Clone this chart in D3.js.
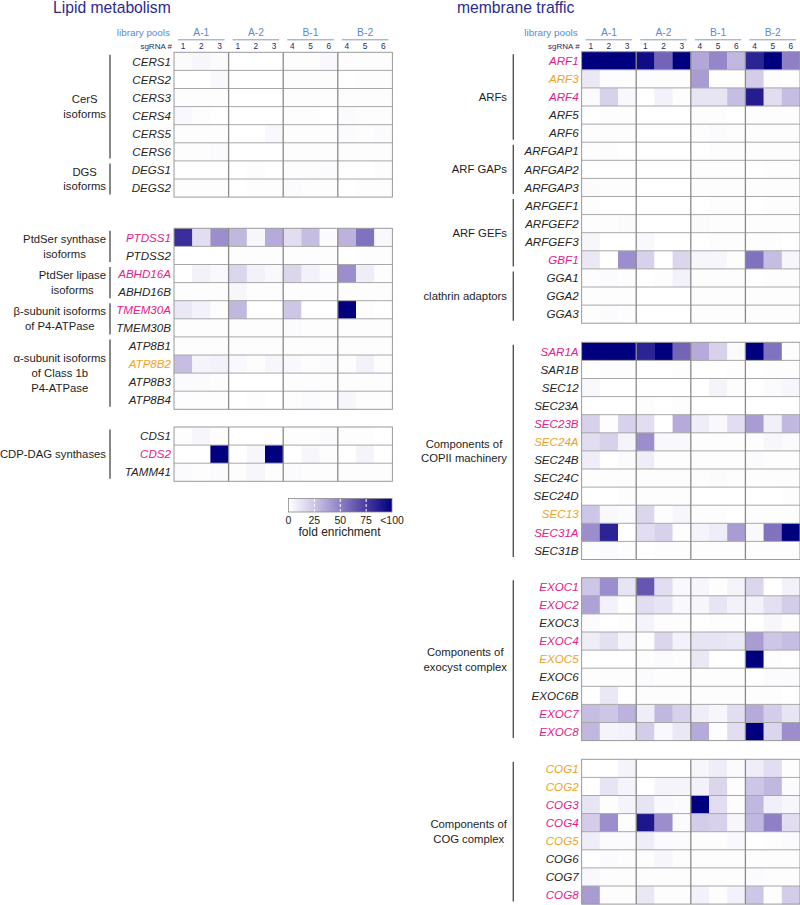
<!DOCTYPE html>
<html><head><meta charset="utf-8">
<script src="https://cdn.jsdelivr.net/npm/d3@7"></script>
<style>
body{margin:0;background:#fff;}
svg{display:block;font-family:"Liberation Sans",Arial,sans-serif;}
</style></head>
<body><svg id="c" width="800" height="905"></svg>
<script>
// ---------- DATA ----------
const pools = ["A-1","A-2","B-1","B-2"];
const sgRNAs = ["1","2","3","1","2","3","4","5","6","4","5","6"];
const legendTicks = ["0","25","50","75","<100"];

const magentaGenes = ["PTDSS1","ABHD16A","TMEM30A","CDS2","ARF1","ARF4","GBF1","SAR1A","SEC23B","SEC31A","EXOC1","EXOC2","EXOC4","EXOC7","EXOC8","COG3","COG4","COG8"];
const orangeGenes = ["ATP8B2","ARF3","SEC24A","SEC13","EXOC5","COG1","COG2","COG5"];

// Lipid metabolism blocks
const cersGenes = ["CERS1","CERS2","CERS3","CERS4","CERS5","CERS6","DEGS1","DEGS2"];
const cersValues = [
 [2,4,2, 0,0,0, 1,1,3, 1,1,1],
 [0,0,3, 0,0,0, 1,1,1, 0,1,1],
 [1,1,1, 0,0,0, 1,1,1, 1,1,1],
 [3,1,0, 0,0,0, 1,1,0, 2,1,1],
 [1,1,1, 0,0,3, 1,1,1, 2,1,2],
 [1,1,2, 0,0,0, 1,1,1, 1,1,1],
 [0,0,0, 0,1,0, 1,1,2, 0,0,1],
 [1,1,1, 0,1,1, 2,1,1, 0,1,1]
];
const ptdGenes = ["PTDSS1","PTDSS2","ABHD16A","ABHD16B","TMEM30A","TMEM30B","ATP8B1","ATP8B2","ATP8B3","ATP8B4"];
const ptdValues = [
 [80,15,45, 30,4,35, 15,28,2, 32,55,3],
 [0,0,0, 1,1,1, 1,1,1, 0,1,1],
 [0,6,3, 18,6,3, 18,6,2, 45,8,1],
 [1,1,1, 4,1,1, 1,1,1, 1,1,1],
 [10,6,1, 30,0,0, 25,0,0, 100,1,0],
 [1,1,1, 1,1,1, 2,1,1, 1,1,1],
 [1,1,1, 1,1,1, 1,1,1, 1,1,1],
 [28,5,6, 3,1,4, 3,1,2, 1,6,1],
 [2,2,1, 0,0,0, 1,1,1, 1,1,1],
 [1,1,1, 0,1,0, 1,2,1, 4,1,1]
];
const cdsGenes = ["CDS1","CDS2","TAMM41"];
const cdsValues = [
 [1,4,1, 0,0,0, 1,1,2, 1,1,0],
 [0,0,100, 0,4,100, 0,4,1, 0,5,0],
 [2,1,2, 1,4,1, 2,1,1, 1,1,1]
];

// membrane traffic blocks
const arfGenes = ["ARF1","ARF3","ARF4","ARF5","ARF6","ARFGAP1","ARFGAP2","ARFGAP3","ARFGEF1","ARFGEF2","ARFGEF3","GBF1","GGA1","GGA2","GGA3"];
const arfValues = [
 [100,100,100, 95,60,100, 36,48,30, 85,100,50],
 [10,1,1, 1,1,1, 40,0,0, 22,1,0],
 [2,20,3, 0,6,1, 12,12,28, 88,15,28],
 [0,1,1, 0,0,0, 1,1,0, 1,1,1],
 [1,1,1, 0,0,0, 1,2,1, 1,1,1],
 [1,1,0, 0,0,0, 0,1,1, 1,1,1],
 [0,0,0, 0,0,0, 1,1,1, 0,1,1],
 [2,1,1, 0,0,0, 1,1,1, 1,1,1],
 [1,0,0, 0,0,0, 0,1,1, 0,1,1],
 [1,1,2, 0,0,0, 2,1,1, 1,1,1],
 [4,0,0, 3,0,0, 0,1,1, 1,1,0],
 [10,0,45, 20,0,18, 4,4,1, 55,28,4],
 [1,2,1, 0,1,6, 1,1,1, 0,1,1],
 [1,1,1, 0,0,0, 1,1,1, 1,1,1],
 [1,2,1, 0,0,0, 1,1,1, 1,1,1]
];
const copiiGenes = ["SAR1A","SAR1B","SEC12","SEC23A","SEC23B","SEC24A","SEC24B","SEC24C","SEC24D","SEC13","SEC31A","SEC31B"];
const copiiValues = [
 [100,100,100, 85,100,60, 35,20,2, 100,55,1],
 [0,1,1, 0,0,1, 0,0,1, 0,1,1],
 [3,0,0, 0,0,0, 0,5,1, 0,2,4],
 [0,0,0, 1,0,1, 0,0,0, 0,0,0],
 [20,1,20, 15,0,35, 8,3,15, 40,7,30],
 [15,20,5, 45,3,3, 1,1,1, 1,4,2],
 [8,0,2, 8,1,1, 1,1,1, 2,1,1],
 [1,1,1, 1,1,1, 1,2,1, 1,1,1],
 [0,0,1, 1,1,1, 0,0,0, 0,0,1],
 [25,3,2, 18,1,4, 1,1,0, 1,1,1],
 [45,85,0, 15,20,1, 5,8,40, 3,55,100],
 [1,2,1, 0,1,1, 1,1,1, 1,1,1]
];
const exocGenes = ["EXOC1","EXOC2","EXOC3","EXOC4","EXOC5","EXOC6","EXOC6B","EXOC7","EXOC8"];
const exocValues = [
 [25,45,12, 65,15,3, 4,1,5, 18,0,6],
 [38,6,1, 15,12,3, 4,12,6, 6,14,22],
 [2,0,1, 5,1,1, 0,1,1, 0,4,1],
 [8,14,5, 1,18,6, 12,12,10, 40,25,28],
 [0,0,0, 1,2,1, 10,0,0, 100,1,0],
 [1,1,1, 2,1,1, 1,1,1, 0,2,2],
 [0,10,0, 1,1,1, 1,1,1, 1,1,0],
 [28,25,32, 8,30,20, 8,4,15, 35,22,12],
 [30,5,6, 22,3,10, 35,1,15, 100,18,45]
];
const cogGenes = ["COG1","COG2","COG3","COG4","COG5","COG6","COG7","COG8"];
const cogValues = [
 [0,0,5, 0,0,0, 4,8,2, 8,15,1],
 [0,12,5, 0,5,5, 6,18,1, 25,30,2],
 [12,1,5, 12,3,2, 100,15,1, 30,7,4],
 [22,45,1, 90,45,2, 22,20,4, 30,50,15],
 [8,2,2, 8,2,2, 1,1,3, 0,1,2],
 [0,2,1, 1,4,1, 1,1,1, 1,1,1],
 [3,1,1, 1,1,1, 1,1,1, 2,1,1],
 [40,1,1, 10,1,1, 6,1,6, 25,1,22]
];

// group labels: [text lines, first gene, last gene]
const lipidGroups = [
 [["CerS","isoforms"],"CERS1","CERS6"],
 [["DGS","isoforms"],"DEGS1","DEGS2"],
 [["PtdSer synthase","isoforms"],"PTDSS1","PTDSS2"],
 [["PtdSer lipase","isoforms"],"ABHD16A","ABHD16B"],
 [["β-subunit isoforms","of P4-ATPase"],"TMEM30A","TMEM30B"],
 [["α-subunit isoforms","of Class 1b","P4-ATPase"],"ATP8B1","ATP8B4"],
 [["CDP-DAG synthases"],"CDS1","TAMM41"]
];
const trafficGroups = [
 [["ARFs"],"ARF1","ARF6"],
 [["ARF GAPs"],"ARFGAP1","ARFGAP3"],
 [["ARF GEFs"],"ARFGEF1","GBF1"],
 [["clathrin adaptors"],"GGA1","GGA3"],
 [["Components of","COPII machinery"],"SAR1A","SEC31B"],
 [["Components of","exocyst complex"],"EXOC1","EXOC8"],
 [["Components of","COG complex"],"COG1","COG8"]
];

// ---------- DRAW ----------
const svg = d3.select("#c");
const color = d3.scaleLinear()
  .domain([0,25,50,75,100])
  .range(["#ffffff","#cec6e6","#8f80c6","#4a3aa2","#00007e"])
  .clamp(true);
const ROWH = 18.1;
const MAG = "#e2208c", ORA = "#f0a224", TXT = "#262626";
function geneColor(g){ return magentaGenes.includes(g)?MAG:(orangeGenes.includes(g)?ORA:TXT); }

function panel(cfg){
  const g = svg.append("g");
  const x = d3.scaleBand().domain(d3.range(12)).range([cfg.x0, cfg.x0+218.4]);
  const cw = x.bandwidth();
  // title
  g.append("text").attr("x",cfg.titleX).attr("y",12.5).attr("font-size",15.7)
    .attr("fill","#2b2b8f").text(cfg.title);
  // header
  g.append("text").attr("x",cfg.x0-4).attr("y",35.5).attr("text-anchor","end")
    .attr("font-size",9.9).attr("fill","#5b8ad2").text("library pools");
  pools.forEach((p,i)=>{
    const a = x(i*3), b = x(i*3+2)+cw;
    g.append("text").attr("x",(a+b)/2).attr("y",35.5).attr("text-anchor","middle")
      .attr("font-size",10.3).attr("fill","#5b8ad2").text(p);
    g.append("line").attr("x1",a+4).attr("x2",b-4).attr("y1",39.8).attr("y2",39.8)
      .attr("stroke","#8d9bb5").attr("stroke-width",1);
  });
  g.append("text").attr("x",cfg.x0-2).attr("y",49.3).attr("text-anchor","end")
    .attr("font-size",8).attr("fill","#1f2a66").text("sgRNA #");
  sgRNAs.forEach((s,i)=>{
    g.append("text").attr("x",x(i)+cw/2).attr("y",49.3).attr("text-anchor","middle")
      .attr("font-size",8.3).attr("fill","#1f2a66").text(s);
  });
  const rowY = {};
  cfg.blocks.forEach(bl=>{
    const y = d3.scaleBand().domain(bl.genes).range([bl.y0, bl.y0+ROWH*bl.genes.length]);
    const bg = g.append("g");
    bl.genes.forEach((gene,r)=>{
      rowY[gene] = [y(gene), y(gene)+y.bandwidth()];
      bg.selectAll(null).data(bl.values[r]).enter().append("rect")
        .attr("x",(d,i)=>x(i)).attr("y",y(gene)).attr("width",cw+0.3).attr("height",y.bandwidth()+0.3)
        .attr("fill",d=>color(d));
      bg.append("text").attr("x",cfg.x0-3).attr("y",y(gene)+y.bandwidth()/2+4.2)
        .attr("text-anchor","end").attr("font-size",11.6).attr("font-style","italic")
        .attr("fill",geneColor(gene)).text(gene);
    });
    const yTop = bl.y0, yBot = bl.y0+ROWH*bl.genes.length;
    bl.genes.slice(1).forEach(gene=>{
      bg.append("line").attr("x1",cfg.x0).attr("x2",cfg.x0+218.4).attr("y1",y(gene)).attr("y2",y(gene))
        .attr("stroke","#a8a8a8").attr("stroke-width",1);
    });
    [3,6,9].forEach(i=>{
      bg.append("line").attr("x1",x(i)).attr("x2",x(i)).attr("y1",yTop).attr("y2",yBot)
        .attr("stroke","#8a8a8a").attr("stroke-width",1.3);
    });
    bg.append("rect").attr("x",cfg.x0).attr("y",yTop).attr("width",218.4).attr("height",yBot-yTop)
      .attr("fill","none").attr("stroke","#9a9a9a").attr("stroke-width",1);
  });
  // group labels
  cfg.groups.forEach(([lines,first,last])=>{
    const y1 = rowY[first][0]+2.5, y2 = rowY[last][1]-2.5;
    g.append("line").attr("x1",cfg.bracketX).attr("x2",cfg.bracketX).attr("y1",y1).attr("y2",y2)
      .attr("stroke","#555").attr("stroke-width",1.4);
    const cy = (y1+y2)/2;
    const lh = 14.8;
    const t = g.append("text").attr("font-size",11.3).attr("fill","#1e1e1e").attr("text-anchor","middle");
    const spans = lines.map((l,i)=>t.append("tspan").attr("y",cy+4+(i-(lines.length-1)/2)*lh).text(l));
    const maxW = d3.max(spans.map(s=>s.node().getComputedTextLength()));
    spans.forEach(s=>s.attr("x",cfg.labelRight-maxW/2));
  });
}

panel({title:"Lipid metabolism", titleX:53, x0:174, bracketX:110, labelRight:106,
  blocks:[{genes:cersGenes,values:cersValues,y0:52.3},{genes:ptdGenes,values:ptdValues,y0:228.3},{genes:cdsGenes,values:cdsValues,y0:427}],
  groups:lipidGroups});
panel({title:"membrane traffic", titleX:457, x0:581.6, bracketX:513.3, labelRight:507,
  blocks:[{genes:arfGenes,values:arfValues,y0:51.7},{genes:copiiGenes,values:copiiValues,y0:342.3},{genes:exocGenes,values:exocValues,y0:577.7},{genes:cogGenes,values:cogValues,y0:759.3}],
  groups:trafficGroups});

// legend
const defs = svg.append("defs");
const grad = defs.append("linearGradient").attr("id","lg");
d3.range(0,101,5).forEach(v=>grad.append("stop").attr("offset",v+"%").attr("stop-color",color(v)));
const lx = d3.scaleLinear().domain([0,100]).range([288.5,392]);
svg.append("rect").attr("x",lx(0)).attr("y",498.5).attr("width",lx(100)-lx(0)).attr("height",13.5)
  .attr("fill","url(#lg)").attr("stroke","#8a8a8a").attr("stroke-width",0.8);
[25,50,75].forEach(v=>svg.append("line").attr("x1",lx(v)).attr("x2",lx(v)).attr("y1",499).attr("y2",511.5)
  .attr("stroke","#fff").attr("stroke-width",1).attr("stroke-dasharray","3,2"));
legendTicks.forEach((t,i)=>svg.append("text").attr("x",lx(i*25)).attr("y",523.5).attr("text-anchor","middle")
  .attr("font-size",10.5).attr("fill","#222").text(t));
svg.append("text").attr("x",339.5).attr("y",536).attr("text-anchor","middle").attr("font-size",12)
  .attr("fill","#222").text("fold enrichment");
</script></body></html>
